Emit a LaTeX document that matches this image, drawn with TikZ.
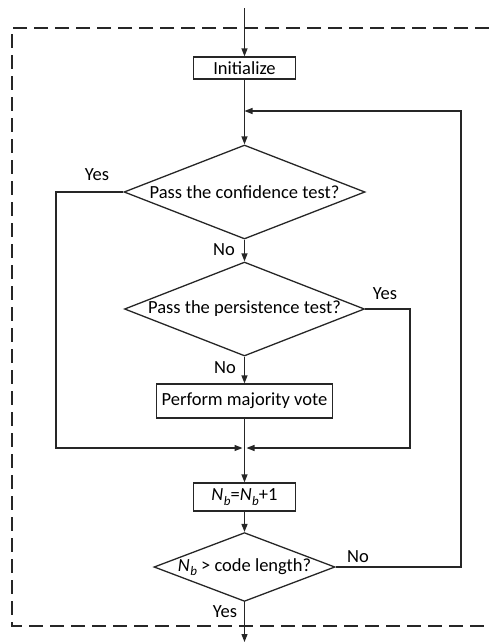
\documentclass[tikz,border=0pt]{standalone}
\usepackage{fontspec}
\setmainfont{Carlito}
\usetikzlibrary{shapes.geometric,arrows.meta}
\newcommand{\Nbsym}{\textit{N}\kern0.5pt\raisebox{-0.25em}{\fontsize{13}{14}\selectfont\textit{b}}}
\begin{document}
\begin{tikzpicture}[x=1pt,y=-1pt,
  every node/.style={font=\fontsize{18.5}{20}\selectfont},
  line/.style={line width=1.3pt,draw=black!85},
  arr/.style={line,-{Triangle[length=8pt,width=6pt]}},
  box/.style={draw=black!85,line width=1.3pt,rectangle,inner sep=0pt},
  dia/.style={draw=black!85,line width=1.3pt,diamond,inner sep=0pt,aspect=2.6},
  lbl/.style={inner sep=0pt}]
\useasboundingbox (0,0) rectangle (489,643);
% dashed frame
\draw[line width=1.4pt,draw=black!85,dash pattern=on 14pt off 7pt] (489,28) -- (12,28) -- (12,626) -- (489,626);
% nodes
\node[box,minimum width=102pt,minimum height=22pt] (init) at (244.5,68) {Initialize};
\node[dia,minimum width=241pt,minimum height=94pt] (d1) at (244.5,192) {Pass the confidence test?};
\node[dia,minimum width=240pt,minimum height=94pt] (d2) at (244.5,309) {Pass the persistence test?};
\node[box,minimum width=176pt,minimum height=34pt] (vote) at (244.5,401) {Perform majority vote};
\node[box,minimum width=102pt,minimum height=28pt] (nb) at (244.5,497) {\Nbsym=\Nbsym+1};
\node[dia,minimum width=181pt,minimum height=64pt] (d3) at (244.5,567) {\Nbsym{} > code length?};
% coordinates
\coordinate (top) at (244.5,8);
\coordinate (loop) at (244.5,111);
\coordinate (j) at (244.5,448);
\coordinate (bot) at (244.5,642);
\coordinate (lx) at (56,0);
\coordinate (rx) at (410,0);
\coordinate (fx) at (461,0);
% connectors
\draw[arr] (top) -- (init.north);
\draw[arr] (init.south) -- (d1.north);
\draw[arr] (d3.east) -- (fx |- d3.east) -- (fx |- loop) -- (loop);
\draw[arr] (d1.west) -- (lx |- d1.west) -- (lx |- j) -- ([xshift=-2pt]j);
\draw[arr] (d1.south) -- (d2.north);
\draw[arr] (d2.east) -- (rx |- d2.east) -- (rx |- j) -- ([xshift=2pt]j);
\draw[arr] (d2.south) -- (vote.north);
\draw[line] (vote.south) -- (j);
\draw[arr] (j) -- (nb.north);
\draw[arr] (nb.south) -- (d3.north);
\draw[arr] (d3.south) -- (bot);
% labels
\node[lbl] (y1) at (97,175) {Yes};
\node[lbl] (n1) at (224,250) {No};
\node[lbl] (y2) at (385,294) {Yes};
\node[lbl] (n2) at (225,368) {No};
\node[lbl] (n3) at (358,557) {No};
\node[lbl] (y3) at (225,612) {Yes};
\end{tikzpicture}
\end{document}
